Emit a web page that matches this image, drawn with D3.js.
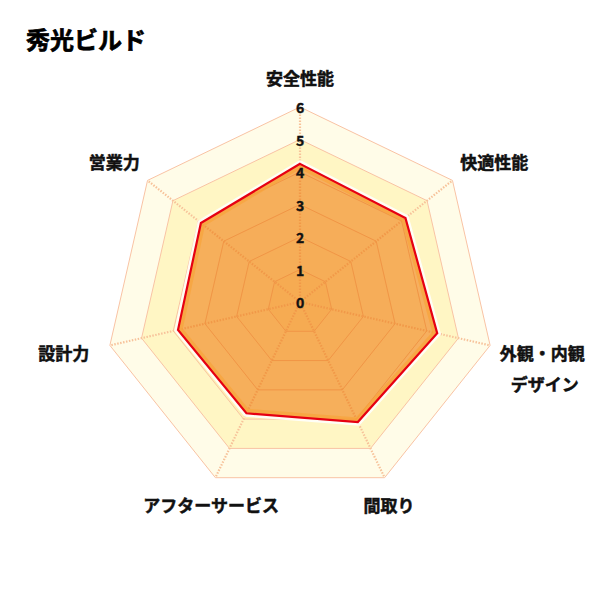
<!DOCTYPE html>
<html>
<head>
<meta charset="utf-8">
<script src="https://cdn.jsdelivr.net/npm/d3@7"></script>
<style>
  html, body { margin: 0; padding: 0; background: #fff; }
  svg { display: block; font-family: "Noto Sans CJK JP", "Noto Sans", sans-serif; }
</style>
</head>
<body>
<svg id="chart" width="600" height="600"></svg>
<script>
// chart values
const title = '秀光ビルド';
const axes = ['安全性能', '快適性能', '外観・内観\nデザイン', '間取り', 'アフターサービス', '設計力', '営業力'];
const scores = [4.25, 4.15, 4.33, 4.1, 3.8, 3.85, 3.9];
const ticks = [0, 1, 2, 3, 4, 5, 6];
const maxValue = 6;

const W = 600, cx = 300, cy = 302, R = 195;
const bandFill = ['#ffe08a', '#ffeaa0', '#ffeea8', '#fff1b2', '#fff6c4', '#fffce8']; // 0-1 ... 5-6
// small hand nudges for the axis labels (x only)
const labelNudge = [0, 0, 0, 0, 0, -11, 0];

const svg = d3.select('#chart');
const n = axes.length;
const angle = i => (i * 2 * Math.PI) / n;
const r = d3.scaleLinear().domain([0, maxValue]).range([0, R]);
const radial = d3.lineRadial().angle((d, i) => angle(i)).radius(d => r(d)).curve(d3.curveLinearClosed);

const g = svg.append('g').attr('transform', `translate(${cx},${cy})`);

function drawGrid(parent, ringColor, spokeColor, spokeOpacity) {
  for (let k = maxValue; k >= 1; k--) {
    parent.append('path')
      .attr('d', radial(d3.range(n).map(() => k)))
      .attr('fill', 'none')
      .attr('stroke', ringColor)
      .attr('stroke-width', 1);
  }
  parent.selectAll('line.spoke')
    .data(axes)
    .join('line')
    .attr('class', 'spoke')
    .attr('x1', 0).attr('y1', 0)
    .attr('x2', (d, i) => r(maxValue) * Math.sin(angle(i)))
    .attr('y2', (d, i) => -r(maxValue) * Math.cos(angle(i)))
    .attr('stroke', spokeColor)
    .attr('stroke-opacity', spokeOpacity)
    .attr('stroke-width', 2.2)
    .attr('stroke-dasharray', '1.5,1.5');
}

// bands, outermost first
for (let k = maxValue; k >= 1; k--) {
  g.append('path')
    .attr('d', radial(d3.range(n).map(() => k)))
    .attr('fill', bandFill[k - 1]);
}
drawGrid(g, '#f9c3a4', '#f7c29a', 1);

// data polygon
const dataPath = radial(scores);
const defs = svg.append('defs');
defs.append('clipPath').attr('id', 'outside')
  .append('path')
  .attr('clip-rule', 'evenodd')
  .attr('d', `M${-cx},${-cy}H${W - cx}V${W - cy}H${-cx}Z` + dataPath);
defs.append('clipPath').attr('id', 'inside')
  .append('path').attr('d', dataPath);

g.append('path')
  .attr('d', dataPath)
  .attr('fill', '#f39c44')
  .attr('fill-opacity', 0.78);

// grid seen through the fill
drawGrid(g.append('g').attr('clip-path', 'url(#inside)').attr('opacity', 0.55), '#ec8a36', '#ec8a36', 0.8);

// light inner edge
g.append('path')
  .attr('d', dataPath)
  .attr('fill', 'none')
  .attr('stroke', '#f8a43a')
  .attr('stroke-opacity', 0.7)
  .attr('stroke-width', 9)
  .attr('clip-path', 'url(#inside)');

// white halo outside
g.append('path')
  .attr('d', dataPath)
  .attr('fill', 'none')
  .attr('stroke', '#fff')
  .attr('stroke-opacity', 0.85)
  .attr('stroke-width', 7)
  .attr('clip-path', 'url(#outside)');

g.append('path')
  .attr('d', dataPath)
  .attr('fill', 'none')
  .attr('stroke', '#e60012')
  .attr('stroke-width', 2.2)
  .attr('stroke-linejoin', 'miter');

// tick labels
g.selectAll('text.tick')
  .data(ticks)
  .join('text')
  .attr('class', 'tick')
  .attr('x', 0)
  .attr('y', d => -r(d))
  .attr('text-anchor', 'middle')
  .attr('dominant-baseline', 'central')
  .attr('font-size', 14)
  .attr('font-weight', 'bold')
  .attr('fill', '#111')
  .attr('stroke', '#111')
  .attr('stroke-width', 0.4)
  .text(d => d);

// axis labels
const labelR = R + 10;
axes.forEach((name, i) => {
  const a = angle(i);
  const s = Math.sin(a), c = Math.cos(a);
  const x = labelR * s + labelNudge[i];
  const y = -labelR * c - 20 * c;
  const anchor = Math.abs(s) < 0.5 ? 'middle' : (s > 0 ? 'start' : 'end');
  const t = g.append('text')
    .attr('text-anchor', anchor)
    .attr('font-size', 17)
    .attr('font-weight', 'bold')
    .attr('fill', '#111')
    .attr('stroke', '#111')
    .attr('stroke-width', 0.5);
  name.split('\n').forEach((line, j) => {
    t.append('tspan')
      .attr('x', x + (j > 0 ? 11 : 0))
      .attr('y', y + j * 31)
      .attr('dominant-baseline', 'central')
      .text(line);
  });
});

// title
svg.append('text')
  .attr('x', 26)
  .attr('y', 38)
  .attr('dominant-baseline', 'central')
  .attr('font-size', 24)
  .attr('font-weight', 'bold')
  .attr('fill', '#000')
  .attr('stroke', '#000')
  .attr('stroke-width', 0.7)
  .text(title);
</script>
</body>
</html>
